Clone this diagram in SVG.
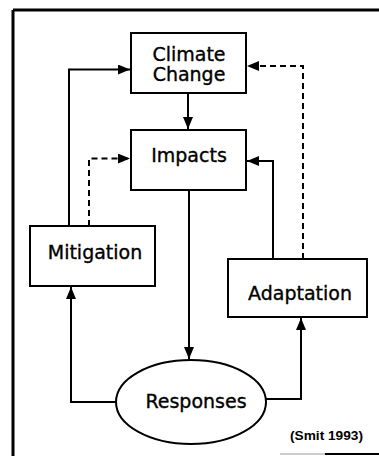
<svg xmlns="http://www.w3.org/2000/svg" width="379" height="456" viewBox="0 0 379 456">
<style>
.box{fill:#fff;stroke:#000;stroke-width:2}
.lbl{font-family:"DejaVu Sans",sans-serif;font-size:19px;fill:#000;stroke:#000;stroke-width:0.35;text-anchor:middle}
.ln{fill:none;stroke:#000;stroke-width:2}
.dash{fill:none;stroke:#000;stroke-width:2;stroke-dasharray:6,4}
</style>
<defs>
<marker id="ah" viewBox="0 0 12 10" refX="12" refY="5" markerWidth="12" markerHeight="10" markerUnits="userSpaceOnUse" orient="auto">
<path d="M0,0 L12,5 L0,10 Z" fill="#000"/>
</marker>
</defs>
<rect width="379" height="456" fill="#fff"/>
<g id="frame">
<line x1="13" y1="10" x2="379" y2="10" stroke="#000" stroke-width="3"/>
<line x1="13" y1="10" x2="13" y2="456" stroke="#000" stroke-width="3"/>
<line x1="280" y1="454" x2="325" y2="454" stroke="#999" stroke-width="1"/>
<line x1="325" y1="454" x2="379" y2="454" stroke="#000" stroke-width="2"/>
</g>
<g id="connectors">
<path class="ln" d="M188,93 V129" marker-end="url(#ah)"/>
<path class="ln" d="M69,226 V69.5 H130" marker-end="url(#ah)"/>
<path class="dash" d="M89,226 V158.5 H130" marker-end="url(#ah)"/>
<path class="ln" d="M273,259 V161 H247" marker-end="url(#ah)"/>
<path class="dash" d="M303,259 V66 H247" marker-end="url(#ah)"/>
<path class="ln" d="M189,190 V359" marker-end="url(#ah)"/>
<path class="ln" d="M116,402 H71 V287" marker-end="url(#ah)"/>
<path class="ln" d="M266,399 H301 V318" marker-end="url(#ah)"/>
</g>
<g id="climate-change">
<rect class="box" x="131" y="33" width="115" height="60"/>
<text class="lbl" x="189" y="61">Climate</text>
<text class="lbl" x="189" y="81">Change</text>
</g>
<g id="impacts">
<rect class="box" x="131" y="130" width="115" height="60"/>
<text class="lbl" x="189" y="162">Impacts</text>
</g>
<g id="mitigation">
<rect class="box" x="30" y="226" width="125" height="60"/>
<text class="lbl" x="95" y="259">Mitigation</text>
</g>
<g id="adaptation">
<rect class="box" x="228" y="259" width="139" height="58"/>
<text class="lbl" x="300" y="300">Adaptation</text>
</g>
<g id="responses">
<ellipse class="box" cx="191" cy="402" rx="75" ry="42"/>
<text class="lbl" x="196" y="408">Responses</text>
</g>
<g id="citation">
<text x="290" y="440" font-family="Liberation Sans,Arial,sans-serif" font-size="13" font-weight="bold" textLength="73" lengthAdjust="spacingAndGlyphs">(Smit 1993)</text>
</g>
</svg>
